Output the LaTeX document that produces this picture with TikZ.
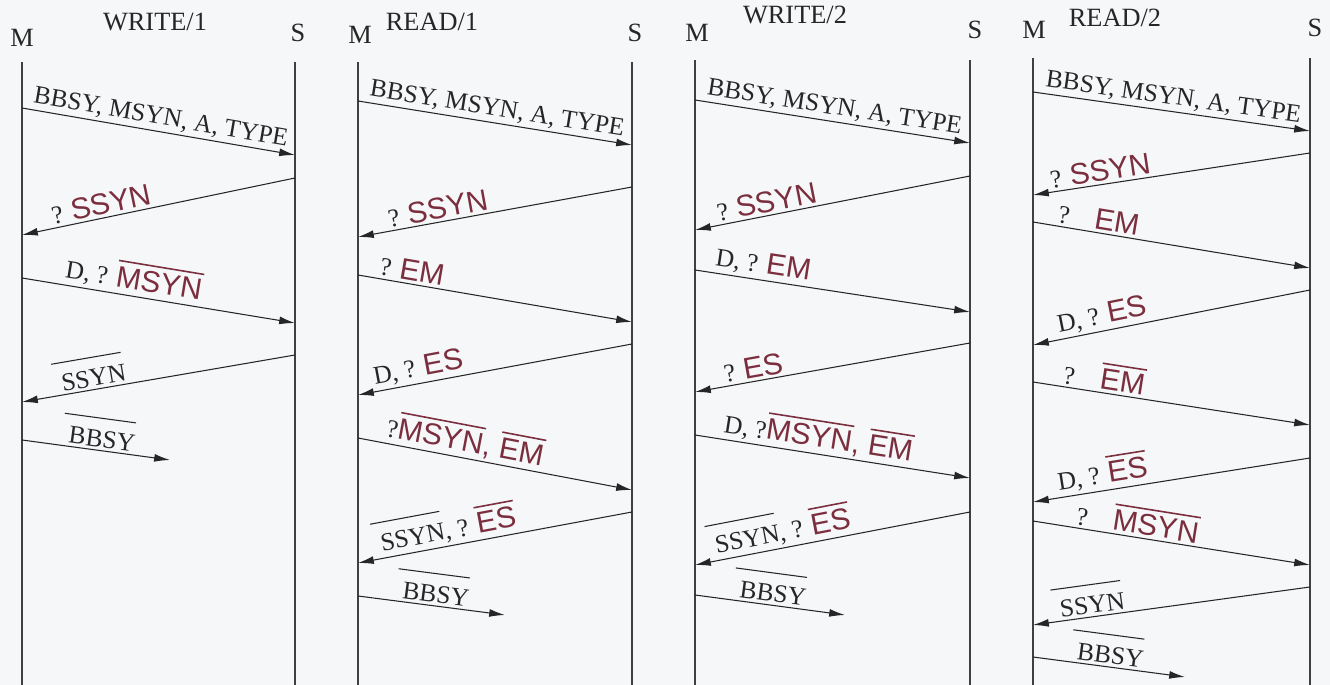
\documentclass[tikz,border=0pt]{standalone}
\usepackage{fontspec}
\setmainfont{Liberation Serif}
\newfontfamily\handfont{Liberation Sans}
\usetikzlibrary{arrows.meta}

\definecolor{hand}{HTML}{7A2E3E}
\definecolor{paper}{HTML}{F6F7F8}

% handwritten part of a label, and bars over signal names
\newcommand\hw[1]{{\color{hand}\handfont\fontsize{17}{18}\selectfont #1}}
\newcommand\ovl[1]{\setbox0\hbox{#1}%
  \rlap{\hspace{-4pt}\raisebox{\dimexpr\ht0+6.5pt\relax}{\rule{\dimexpr\wd0+3pt\relax}{.6pt}}}\box0}
\newcommand\hwbar[1]{\setbox0\hbox{#1}%
  \rlap{\raisebox{\dimexpr\ht0+2.5pt\relax}{\rule{\wd0}{.9pt}}}\box0}

\begin{document}
\begin{tikzpicture}[x=0.02cm, y=-0.02cm,
    life/.style={line width=.6pt, black!75},
    msg/.style={line width=.6pt, black!85, -{Latex[length=9pt,width=4.5pt]}},
    lbl/.style={sloped, above, inner sep=1.5pt, black!85, font=\fontsize{14.5}{16}\selectfont},
    head/.style={black!85, font=\fontsize{15}{17}\selectfont}]
    \fill [paper] (0,0) rectangle (1330,685);
    \useasboundingbox (0,0) rectangle (1330,685);

    % WRITE/1
    \path ( 22, 38) node [head] (m1) {M};
    \path (298, 33) node [head] (s1) {S};
    \path (155, 22) node [head] (t1) {WRITE/1};
    \path ( 22, 62) coordinate (m1top) ( 22,685) coordinate (m1bot);
    \path (295, 62) coordinate (s1top) (295,685) coordinate (s1bot);
    \draw [life] (m1top) -- (m1bot);
    \draw [life] (s1top) -- (s1bot);
    \path ( 22,108) coordinate (w1a) (295,155) coordinate (w1b);
    \path (295,178) coordinate (w1c) ( 22,235) coordinate (w1d);
    \path ( 22,278) coordinate (w1e) (295,323) coordinate (w1f);
    \path (295,355) coordinate (w1g) ( 22,402) coordinate (w1h);
    \path ( 22,440) coordinate (w1i) (170,460) coordinate (w1j);
    \draw [msg] (w1a) -- node [lbl,pos=.5] {BBSY, MSYN, A, TYPE} (w1b);
    \draw [msg] (w1c) -- node [lbl,pos=.7] {? \hw{SSYN}} (w1d);
    \draw [msg] (w1e) -- node [lbl,pos=.4] {D, ? \hw{\hwbar{MSYN}}} (w1f);
    \draw [msg] (w1g) -- node [lbl,pos=.73] {\ovl{SSYN}} (w1h);
    \draw [msg] (w1i) -- node [lbl,pos=.53] {\ovl{BBSY}} (w1j);

    % READ/1
    \path (360, 35) node [head] (m2) {M};
    \path (635, 33) node [head] (s2) {S};
    \path (432, 22) node [head] (t2) {READ/1};
    \path (358, 62) coordinate (m2top) (358,685) coordinate (m2bot);
    \path (632, 62) coordinate (s2top) (632,685) coordinate (s2bot);
    \draw [life] (m2top) -- (m2bot);
    \draw [life] (s2top) -- (s2bot);
    \path (358,101) coordinate (r1a) (632,145) coordinate (r1b);
    \path (632,187) coordinate (r1c) (358,237) coordinate (r1d);
    \path (358,275) coordinate (r1e) (632,322) coordinate (r1f);
    \path (632,344) coordinate (r1g) (358,395) coordinate (r1h);
    \path (358,438) coordinate (r1i) (632,490) coordinate (r1j);
    \path (632,512) coordinate (r1k) (358,563) coordinate (r1l);
    \path (358,596) coordinate (r1m) (505,615) coordinate (r1n);
    \draw [msg] (r1a) -- node [lbl,pos=.5] {BBSY, MSYN, A, TYPE} (r1b);
    \draw [msg] (r1c) -- node [lbl,pos=.7] {? \hw{SSYN}} (r1d);
    \draw [msg] (r1e) -- node [lbl,pos=.19] {? \hw{EM}} (r1f);
    \draw [msg] (r1g) -- node [lbl,pos=.77] {D, ? \hw{ES}} (r1h);
    \draw [msg] (r1i) -- node [lbl,pos=.38] {?\hw{\hwbar{MSYN}, \hwbar{EM}}} (r1j);
    \draw [msg] (r1k) -- node [lbl,pos=.66] {\ovl{SSYN}, ? \hw{\hwbar{ES}}} (r1l);
    \draw [msg] (r1m) -- node [lbl,pos=.52] {\ovl{BBSY}} (r1n);

    % WRITE/2
    \path (697, 33) node [head] (m3) {M};
    \path (975, 30) node [head] (s3) {S};
    \path (795, 15) node [head] (t3) {WRITE/2};
    \path (695, 60) coordinate (m3top) (695,685) coordinate (m3bot);
    \path (970, 60) coordinate (s3top) (970,685) coordinate (s3bot);
    \draw [life] (m3top) -- (m3bot);
    \draw [life] (s3top) -- (s3bot);
    \path (695,100) coordinate (w2a) (970,143) coordinate (w2b);
    \path (970,176) coordinate (w2c) (695,230) coordinate (w2d);
    \path (695,270) coordinate (w2e) (970,312) coordinate (w2f);
    \path (970,343) coordinate (w2g) (695,392) coordinate (w2h);
    \path (695,435) coordinate (w2i) (970,478) coordinate (w2j);
    \path (970,512) coordinate (w2k) (695,565) coordinate (w2l);
    \path (695,595) coordinate (w2m) (845,615) coordinate (w2n);
    \draw [msg] (w2a) -- node [lbl,pos=.5] {BBSY, MSYN, A, TYPE} (w2b);
    \draw [msg] (w2c) -- node [lbl,pos=.73] {? \hw{SSYN}} (w2d);
    \draw [msg] (w2e) -- node [lbl,pos=.24] {D, ? \hw{EM}} (w2f);
    \draw [msg] (w2g) -- node [lbl,pos=.78] {? \hw{ES}} (w2h);
    \draw [msg] (w2i) -- node [lbl,pos=.44] {D, ?\hw{\hwbar{MSYN}, \hwbar{EM}}} (w2j);
    \draw [msg] (w2k) -- node [lbl,pos=.67] {\ovl{SSYN}, ? \hw{\hwbar{ES}}} (w2l);
    \draw [msg] (w2m) -- node [lbl,pos=.51] {\ovl{BBSY}} (w2n);

    % READ/2
    \path (1034, 30) node [head] (m4) {M};
    \path (1315, 28) node [head] (s4) {S};
    \path (1115, 18) node [head] (t4) {READ/2};
    \path (1033, 58) coordinate (m4top) (1033,685) coordinate (m4bot);
    \path (1310, 58) coordinate (s4top) (1310,685) coordinate (s4bot);
    \draw [life] (m4top) -- (m4bot);
    \draw [life] (s4top) -- (s4bot);
    \path (1033, 92) coordinate (r2a) (1310,131) coordinate (r2b);
    \path (1310,153) coordinate (r2c) (1033,195) coordinate (r2d);
    \path (1033,222) coordinate (r2e) (1310,268) coordinate (r2f);
    \path (1310,290) coordinate (r2g) (1033,345) coordinate (r2h);
    \path (1033,382) coordinate (r2i) (1310,425) coordinate (r2j);
    \path (1310,458) coordinate (r2k) (1033,502) coordinate (r2l);
    \path (1033,521) coordinate (r2m) (1310,565) coordinate (r2n);
    \path (1310,587) coordinate (r2o) (1033,625) coordinate (r2p);
    \path (1033,657) coordinate (r2q) (1185,677) coordinate (r2r);
    \draw [msg] (r2a) -- node [lbl,pos=.5] {BBSY, MSYN, A, TYPE} (r2b);
    \draw [msg] (r2c) -- node [lbl,pos=.75] {? \hw{SSYN}} (r2d);
    \draw [msg] (r2e) -- node [lbl,pos=.23] {?\quad\hw{EM}} (r2f);
    \draw [msg] (r2g) -- node [lbl,pos=.74] {D, ? \hw{ES}} (r2h);
    \draw [msg] (r2i) -- node [lbl,pos=.25] {?\quad\hw{\hwbar{EM}}} (r2j);
    \draw [msg] (r2k) -- node [lbl,pos=.74] {D, ? \hw{\hwbar{ES}}} (r2l);
    \draw [msg] (r2m) -- node [lbl,pos=.37] {?\quad\hw{\hwbar{MSYN}}} (r2n);
    \draw [msg] (r2o) -- node [lbl,pos=.78] {\ovl{SSYN}} (r2p);
    \draw [msg] (r2q) -- node [lbl,pos=.5] {\ovl{BBSY}} (r2r);
\end{tikzpicture}
\end{document}
